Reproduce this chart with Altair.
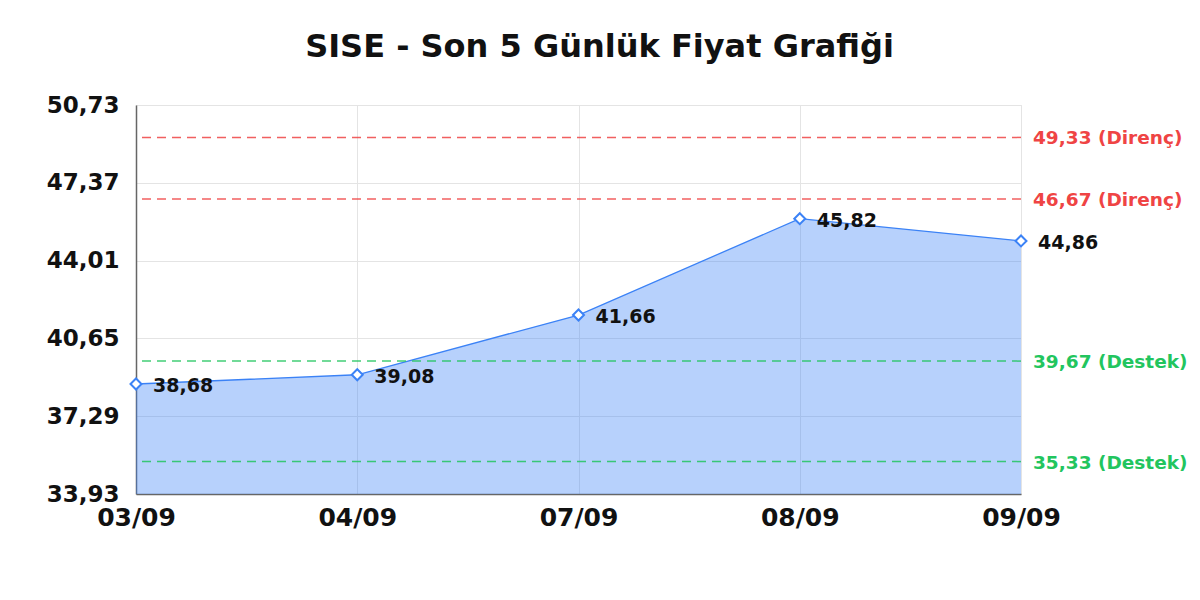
import altair as alt
import pandas as pd

dates = ["03/09", "04/09", "07/09", "08/09", "09/09"]
prices = [38.68, 39.08, 41.66, 45.82, 44.86]
level_values = [49.33, 46.67, 39.67, 35.33]
level_kinds = ["Direnç", "Direnç", "Destek", "Destek"]
y_ticks = [33.93, 37.29, 40.65, 44.01, 47.37, 50.73]
title_text = "SISE - Son 5 Günlük Fiyat Grafiği"

df = pd.DataFrame({"date": dates, "price": prices})
lv = pd.DataFrame({"level": level_values, "kind": level_kinds})

FONT = "DejaVu Sans"
BLUE = "#3b82f6"
W, H = 885, 389
YMIN, YMAX = 33.93, 50.73

xenc = alt.X(
    "date:N", sort=dates, title=None,
    scale=alt.Scale(type="point", padding=0, domain=dates),
    axis=alt.Axis(labelFont=FONT, labelFontSize=25, labelFontWeight="bold",
                  labelColor="#111", labelAngle=0, labelPadding=11, ticks=False,
                  domainColor="#666", domainWidth=1.5, grid=True, gridColor="#e4e4e4"),
)
yscale = alt.Scale(domain=[YMIN, YMAX], nice=False, zero=False)
yenc = alt.Y(
    "price:Q", title=None, scale=yscale,
    axis=alt.Axis(values=y_ticks, labelFont=FONT, labelFontSize=23, labelFontWeight="bold",
                  labelColor="#111", labelPadding=17, ticks=False, domainColor="#666",
                  domainWidth=1.5, gridColor="#e4e4e4",
                  labelExpr="replace(format(datum.value, '.2f'), '.', ',')"),
)

base = alt.Chart(df)
area = base.mark_area(color=BLUE, opacity=0.37).encode(x=xenc, y=yenc, y2=alt.datum(YMIN))
line = base.mark_line(color=BLUE, strokeWidth=1.3).encode(x=xenc, y=yenc)
pts = base.mark_point(shape="diamond", filled=True, fill="white", stroke=BLUE,
                      strokeWidth=2, size=120, opacity=1).encode(x=xenc, y=yenc)
lbl = base.transform_calculate(
    lab="replace(format(datum.price, '.2f'), '.', ',')"
).mark_text(align="left", baseline="middle", dx=17, dy=2, font=FONT, fontSize=19,
            fontWeight="bold", color="#111").encode(x=xenc, y=yenc, text="lab:N")

cscale = alt.Scale(domain=["Direnç", "Destek"], range=["#ef4444", "#22c55e"])
rules = alt.Chart(lv).mark_rule(strokeDash=[9, 6], strokeWidth=1.5, opacity=0.85).encode(
    y=alt.Y("level:Q", scale=yscale),
    color=alt.Color("kind:N", scale=cscale, legend=None),
)
rtext = alt.Chart(lv).transform_calculate(
    lab="replace(format(datum.level, '.2f'), '.', ',') + ' (' + datum.kind + ')'"
).mark_text(align="left", baseline="middle", dx=12, dy=1, font=FONT, fontSize=18.5,
            fontWeight="bold").encode(
    x=alt.value(W),
    y=alt.Y("level:Q", scale=yscale),
    text="lab:N",
    color=alt.Color("kind:N", scale=cscale, legend=None),
)

chart = alt.layer(area, line, rules, pts, lbl, rtext).properties(
    width=W, height=H,
    title=alt.TitleParams(title_text, font=FONT, fontSize=32, fontWeight="bold",
                          color="#111", anchor="middle", dx=21, offset=30),
    autosize=alt.AutoSizeParams(type="none"),
    padding={"left": 128, "top": 97, "right": 171, "bottom": 98},
).configure_view(stroke="#e4e4e4").configure(background="white")

chart.save("out.html", embed_options={"renderer": "svg", "actions": False})
